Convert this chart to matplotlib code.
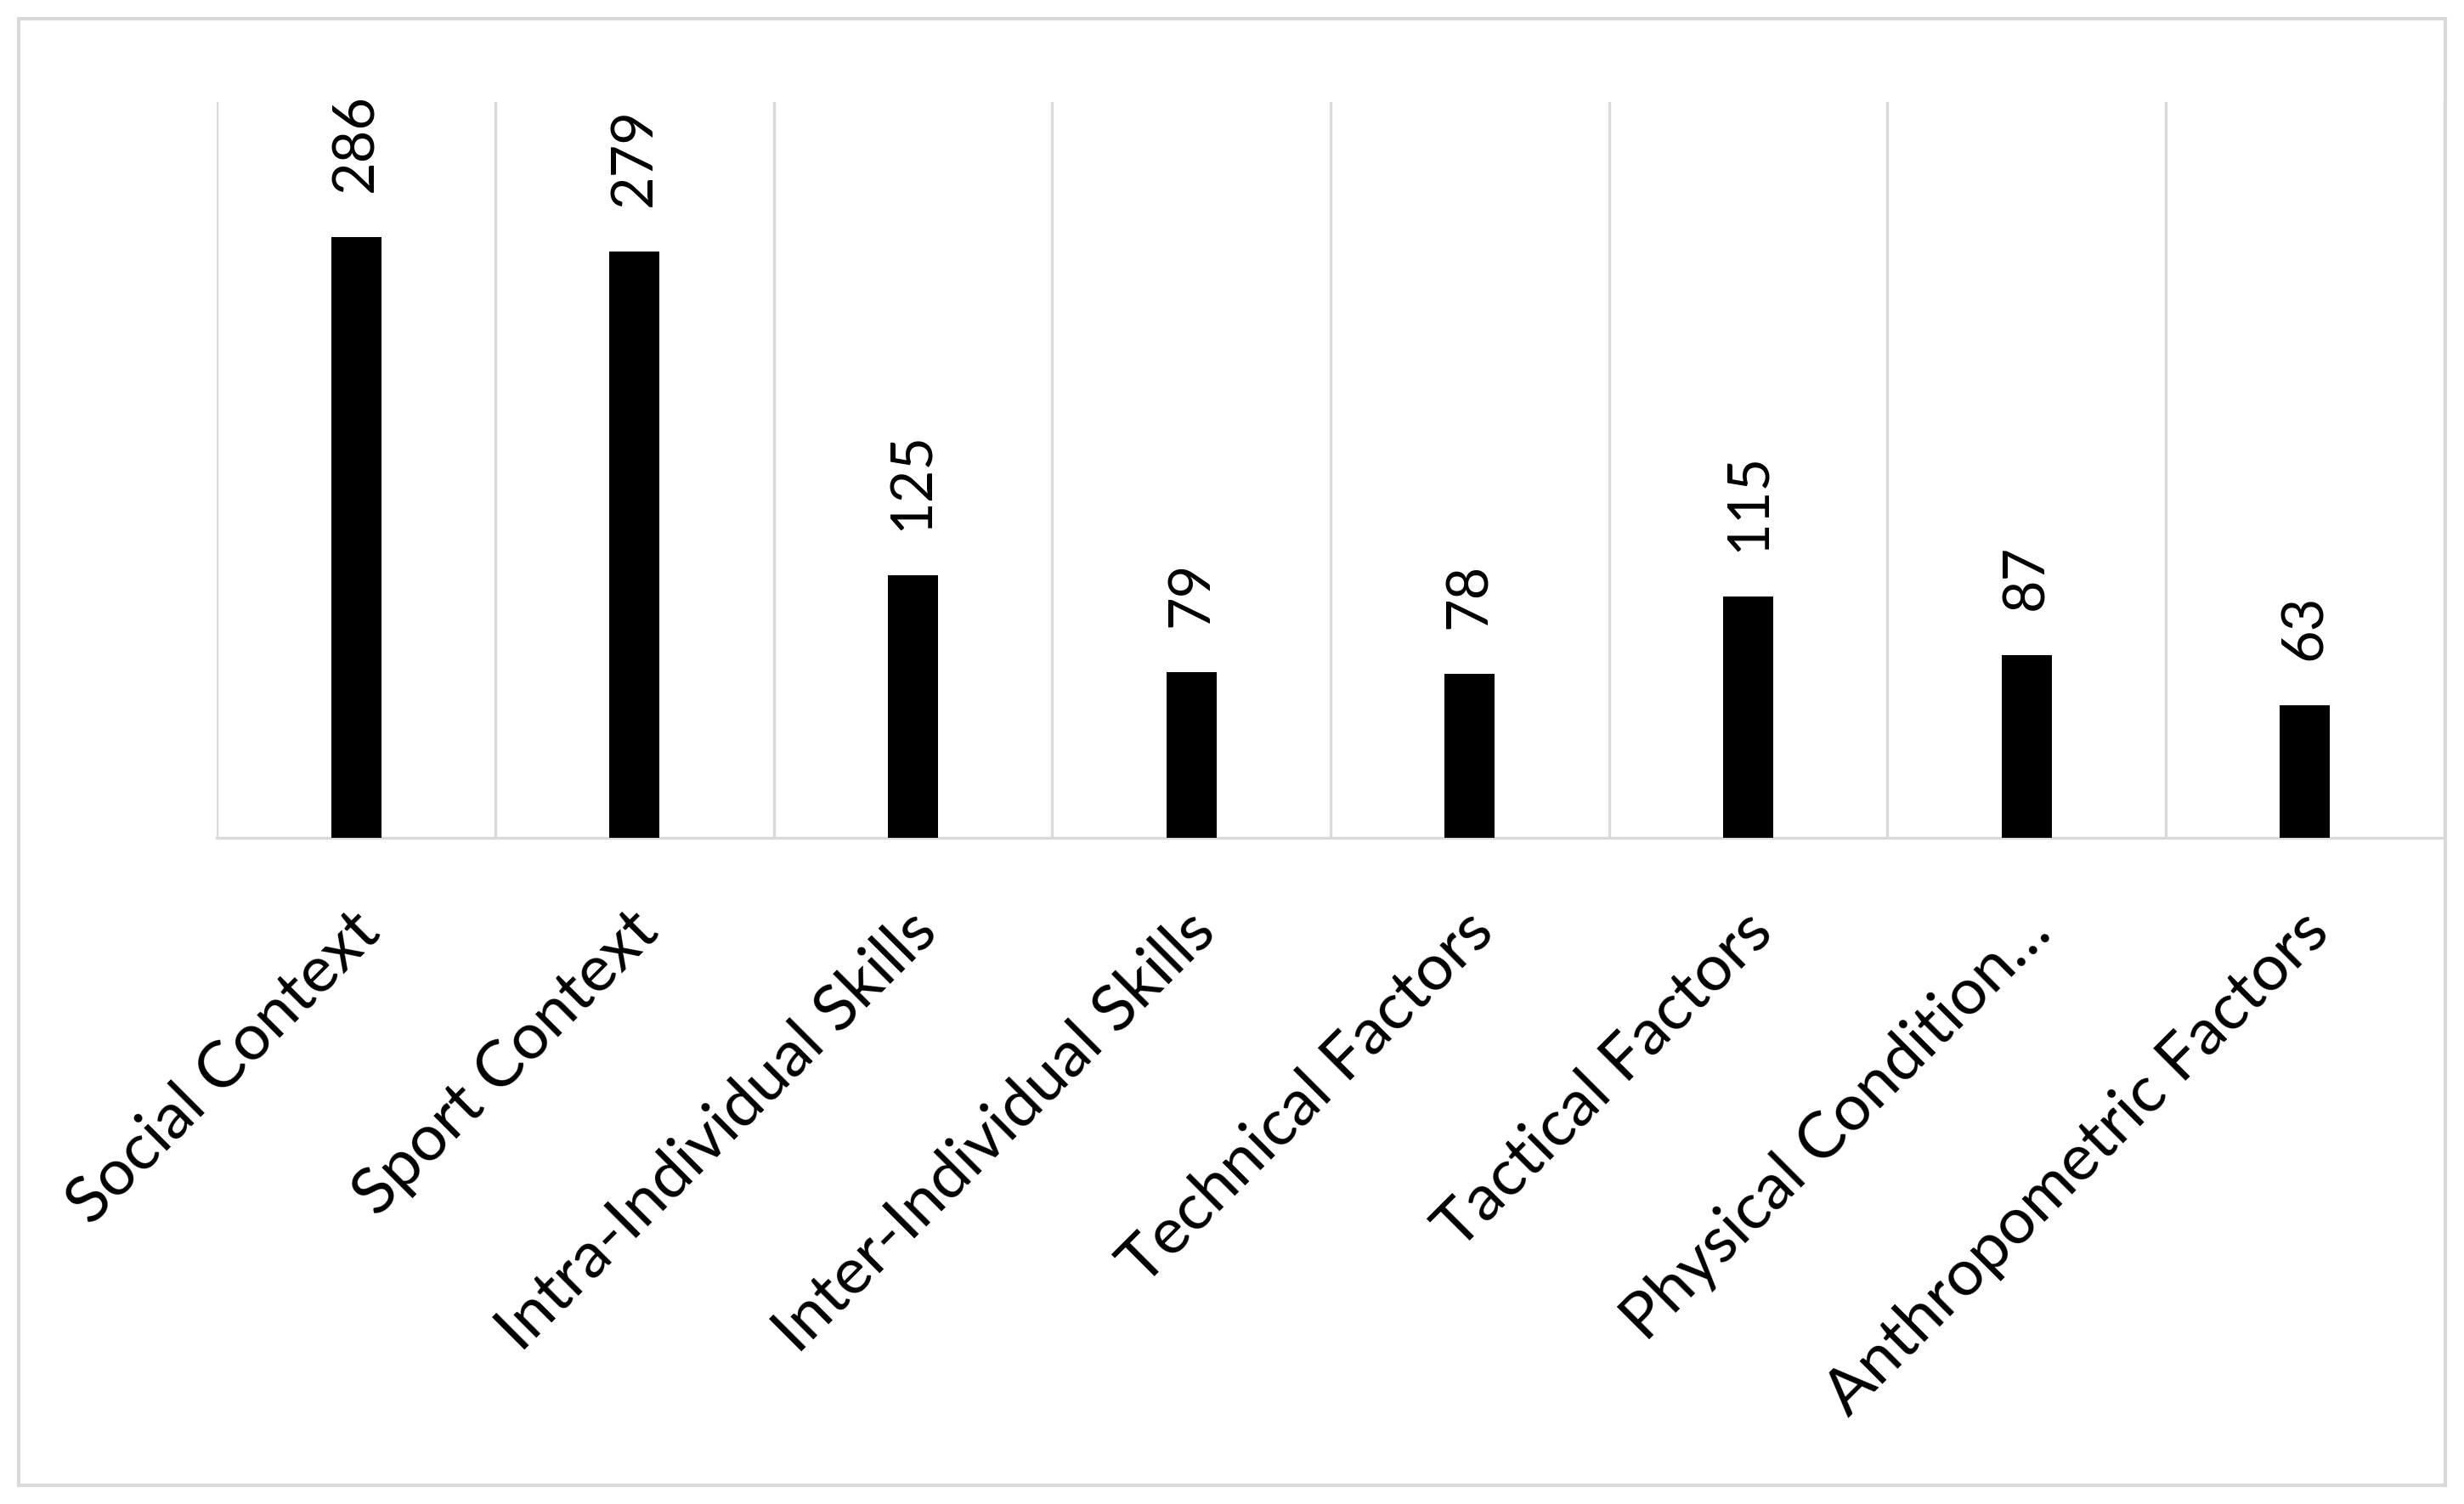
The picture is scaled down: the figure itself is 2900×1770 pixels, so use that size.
import matplotlib
matplotlib.use("Agg")
import matplotlib.pyplot as plt
import matplotlib.transforms as mtransforms
from matplotlib.patches import Rectangle
import numpy as np

categories = [
    "Social Context",
    "Sport Context",
    "Intra-Individual Skills",
    "Inter-Individual Skills",
    "Technical Factors",
    "Tactical Factors",
    "Physical Condition\u2026",
    "Anthropometric Factors",
]
counts = [286, 279, 125, 79, 78, 115, 87, 63]

GRID = "#d9d9d9"
plt.rcParams["font.family"] = ["Lato", "DejaVu Sans"]

fig = plt.figure(figsize=(29, 17.7), dpi=100)
ax = fig.add_axes([0.088, 0.443, 0.904, 0.489])

x = np.arange(len(categories))
bars = ax.bar(x, counts, width=0.18, color="black", zorder=3)

ax.set_xlim(-0.5, len(categories) - 0.5)
ax.set_ylim(0, 350)

# vertical separators between categories
for b in np.arange(-0.5, len(categories), 1.0):
    ax.axvline(b, color=GRID, lw=2.4, zorder=1)

for side in ["top", "right", "left"]:
    ax.spines[side].set_visible(False)
ax.spines["bottom"].set_color(GRID)
ax.spines["bottom"].set_linewidth(2.4)
ax.set_yticks([])
ax.tick_params(axis="x", length=0)

ax.set_xticks(x)
ax.set_xticklabels(categories, rotation=45, ha="right", va="top",
                   rotation_mode="anchor", fontsize=55)
offset = mtransforms.ScaledTranslation(-6 / 72, -50 / 72, fig.dpi_scale_trans)
for lbl in ax.get_xticklabels():
    lbl.set_transform(lbl.get_transform() + offset)

for xi, v in zip(x, counts):
    ax.annotate(str(v), xy=(xi, v), xytext=(0, 38), textcoords="offset points",
                rotation=90, ha="center", va="bottom", fontsize=48)

# outer chart border
fig.patches.append(Rectangle((22 / 2900, 22 / 1770), 1 - 44 / 2900, 1 - 44 / 1770,
                             transform=fig.transFigure, fill=False,
                             edgecolor=GRID, lw=3))

fig.savefig("out.png", dpi=100)
